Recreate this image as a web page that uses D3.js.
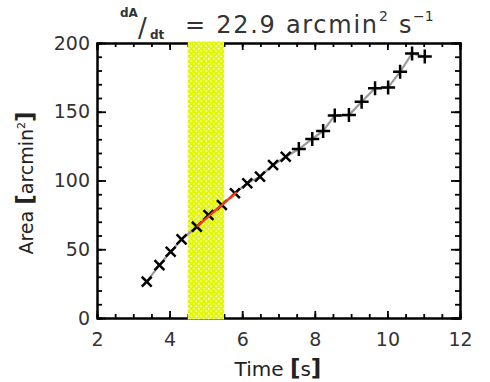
<!DOCTYPE html>
<html><head><meta charset="utf-8">
<script src="https://cdn.jsdelivr.net/npm/d3@7"></script>
<style>body{margin:0;background:#fff;} svg{display:block;}</style>
</head><body>
<svg id="c" width="490" height="382"></svg>
<script>
// ---- data ----
const times = [3.37,3.72,4.03,4.33,4.75,5.07,5.44,5.80,6.14,6.49,6.85,7.20,7.56,7.93,8.23,8.55,8.94,9.29,9.66,10.02,10.35,10.68,11.03];
const areas = [26.4,38.5,48.2,57.2,66.4,74.9,82.2,90.7,98.0,102.8,111.3,117.3,122.9,130.2,136.0,147.3,147.6,157.3,167.1,167.6,179.1,192.4,190.1];
const fitWindow = [4.5, 5.5];
const fitT = [4.75, 5.85];
const fitA = [66.4, 91.6];
const slope = 22.9;
const xTicks = [2,4,6,8,10,12];
const yTicks = [0,50,100,150,200];
const xMinor = d3.range(2, 12.01, 0.5);
const yMinor = d3.range(0, 200.1, 10);

// ---- layout ----
const L = 97, R = 460, T = 43, B = 318;
const svg = d3.select('#c');
const x = d3.scaleLinear().domain([2,12]).range([L,R]);
const y = d3.scaleLinear().domain([0,200]).range([B,T]);
const FONT = 'DejaVu Sans, Liberation Sans, sans-serif';

const defs = svg.append('defs');
const pat = defs.append('pattern').attr('id','hatch').attr('width',5).attr('height',5)
  .attr('patternUnits','userSpaceOnUse');
pat.append('rect').attr('width',5).attr('height',5).attr('fill','#e0f700');
pat.append('circle').attr('cx',1.25).attr('cy',1.25).attr('r',0.95).attr('fill','#fbffe0');
pat.append('circle').attr('cx',3.75).attr('cy',3.75).attr('r',0.95).attr('fill','#fbffe0');

function styleAxis(g){
  g.selectAll('.domain').attr('stroke','#000').attr('stroke-width',2);
  g.selectAll('.tick line').attr('stroke','#000').attr('stroke-width',1.8);
  g.selectAll('text').attr('font-family',FONT).attr('font-size',19).attr('fill','#333');
}
// bottom
svg.append('g').attr('transform',`translate(0,${B})`)
  .call(d3.axisBottom(x).tickValues(xMinor).tickSize(-4).tickFormat(''))
  .call(styleAxis);
svg.append('g').attr('transform',`translate(0,${B})`)
  .call(d3.axisBottom(x).tickValues(xTicks).tickSizeInner(-7).tickSizeOuter(0).tickPadding(15).tickFormat(d3.format('d')))
  .call(styleAxis);
// top
svg.append('g').attr('transform',`translate(0,${T})`)
  .call(d3.axisTop(x).tickValues(xMinor).tickSize(-4).tickFormat(''))
  .call(styleAxis);
svg.append('g').attr('transform',`translate(0,${T})`)
  .call(d3.axisTop(x).tickValues(xTicks).tickSize(-7).tickFormat(''))
  .call(styleAxis);
// left
svg.append('g').attr('transform',`translate(${L},0)`)
  .call(d3.axisLeft(y).tickValues(yMinor).tickSize(-5).tickFormat(''))
  .call(styleAxis);
svg.append('g').attr('transform',`translate(${L},0)`)
  .call(d3.axisLeft(y).tickValues(yTicks).tickSizeInner(-9).tickSizeOuter(0).tickPadding(7).tickFormat(d3.format('d')))
  .call(styleAxis);
// right
svg.append('g').attr('transform',`translate(${R},0)`)
  .call(d3.axisRight(y).tickValues(yMinor).tickSize(-5).tickFormat(''))
  .call(styleAxis);
svg.append('g').attr('transform',`translate(${R},0)`)
  .call(d3.axisRight(y).tickValues(yTicks).tickSize(-9).tickFormat(''))
  .call(styleAxis);

// band
svg.append('rect').attr('x',x(fitWindow[0])).attr('width',x(fitWindow[1])-x(fitWindow[0]))
  .attr('y',T-1.5).attr('height',B-T+3).attr('fill','url(#hatch)');

// connecting line
const pts = times.map((t,i)=>[t,areas[i]]);
svg.append('path').datum(pts)
  .attr('d',d3.line().x(d=>x(d[0])).y(d=>y(d[1])))
  .attr('fill','none').attr('stroke','#9a9a9a').attr('stroke-width',2.2);

// markers
svg.append('g').selectAll('path').data(pts).join('path')
  .attr('transform',d=>`translate(${x(d[0])},${y(d[1])}) rotate(${d[0]<7.4?45:0})`)
  .attr('d','M-7,0H7M0,-7V7')
  .attr('stroke','#000').attr('stroke-width',2.5).attr('fill','none');

// fit line
svg.append('line').attr('x1',x(fitT[0])).attr('y1',y(fitA[0])).attr('x2',x(fitT[1])).attr('y2',y(fitA[1]))
  .attr('stroke','#ff3b10').attr('stroke-width',2.2);

// title
const tg = svg.append('g').attr('font-family',FONT).attr('fill','#333');
tg.append('text').attr('x',120).attr('y',17).attr('font-size',12).attr('font-weight','bold').text('dA');
tg.append('text').attr('x',138).attr('y',37).attr('font-size',26).text('/');
tg.append('text').attr('x',150).attr('y',39).attr('font-size',12).attr('font-weight','bold').text('dt');
tg.append('text').attr('x',185).attr('y',33).attr('font-size',24)
  .attr('textLength',192).attr('lengthAdjust','spacing').text(`= ${slope} arcmin`);
tg.append('text').attr('x',379).attr('y',21).attr('font-size',14).text('2');
tg.append('text').attr('x',399).attr('y',33).attr('font-size',24).text('s');
tg.append('text').attr('x',413).attr('y',21).attr('font-size',14).text('\u22121');

// x label
const xl = svg.append('text').attr('x',278).attr('y',376).attr('text-anchor','middle')
  .attr('font-family',FONT).attr('font-size',20).attr('fill','#222');
xl.append('tspan').text('Time ');
xl.append('tspan').attr('font-weight','bold').attr('font-size',23).text('[');
xl.append('tspan').text('s');
xl.append('tspan').attr('font-weight','bold').attr('font-size',23).text(']');

// y label
const yl = svg.append('text').attr('transform','translate(33,183) rotate(-90)').attr('text-anchor','middle')
  .attr('font-family',FONT).attr('font-size',19).attr('fill','#222');
yl.append('tspan').text('Area ');
yl.append('tspan').attr('font-weight','bold').attr('font-size',23).text('[');
yl.append('tspan').text('arcmin');
yl.append('tspan').attr('font-size',11).attr('dy',-8).text('2');
yl.append('tspan').attr('font-weight','bold').attr('font-size',23).attr('dy',8).text(']');
</script>
</body></html>
